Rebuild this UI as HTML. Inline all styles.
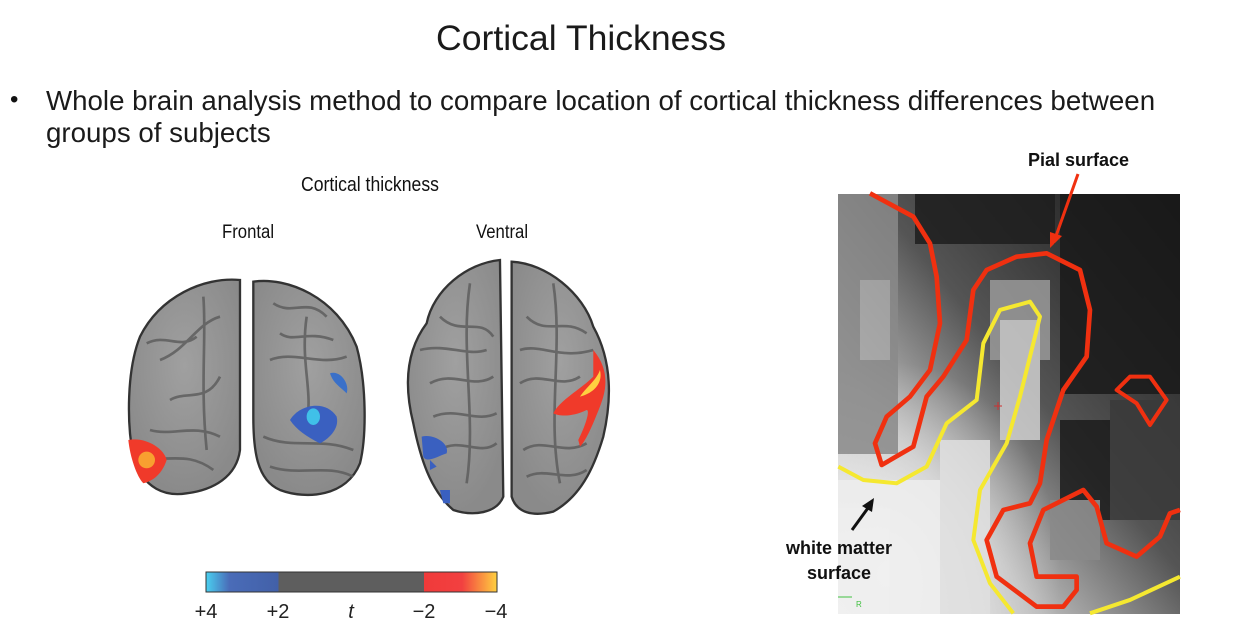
<!DOCTYPE html>
<html><head><meta charset="utf-8"><style>
body{margin:0;width:1238px;height:638px;background:#fff;position:relative;overflow:hidden;font-family:"Liberation Sans",sans-serif}
.t{position:absolute;white-space:nowrap;color:#111}
</style></head><body>
<div class="t" style="left:436px;top:18px;font-size:35.6px;color:#1a1a1a">Cortical Thickness</div>
<div class="t" style="left:10px;top:86px;font-size:24px">•</div>
<div class="t" style="left:46px;top:85px;font-size:27.7px;line-height:32px;color:#1a1a1a">Whole brain analysis method to compare location of cortical thickness differences between<br>groups of subjects</div>
<div class="t" style="left:301px;top:174px;font-size:20px;transform:scaleX(0.88);transform-origin:left">Cortical thickness</div>
<div class="t" style="left:222px;top:222px;font-size:19px;transform:scaleX(0.88);transform-origin:left">Frontal</div>
<div class="t" style="left:476px;top:222px;font-size:19px;transform:scaleX(0.88);transform-origin:left">Ventral</div>

<svg width="1238" height="638" style="position:absolute;left:0;top:0">
<defs>
<linearGradient id="cb" x1="0" x2="1">
<stop offset="0" stop-color="#4ad0f0"/><stop offset="0.08" stop-color="#4a6cb8"/><stop offset="0.25" stop-color="#4260a8"/>
<stop offset="0.25" stop-color="#5e5e5e"/><stop offset="0.75" stop-color="#5e5e5e"/>
<stop offset="0.75" stop-color="#f03a3a"/><stop offset="0.88" stop-color="#f24040"/><stop offset="1" stop-color="#ffd040"/></linearGradient>
<radialGradient id="br" cx="0.5" cy="0.4" r="0.6"><stop offset="0" stop-color="#a0a0a0"/><stop offset="1" stop-color="#8a8a8a"/></radialGradient>
<linearGradient id="mri" x1="0" y1="1" x2="1" y2="0">
<stop offset="0" stop-color="#f2f2f2"/><stop offset="0.3" stop-color="#b8b8b8"/><stop offset="0.55" stop-color="#555"/><stop offset="1" stop-color="#151515"/></linearGradient>
<radialGradient id="wm" cx="0.15" cy="0.9" r="0.5"><stop offset="0" stop-color="#f4f4f4"/><stop offset="1" stop-color="#f4f4f4" stop-opacity="0"/></radialGradient>
</defs>
<g transform="translate(120,250) scale(0.3333)">
<path d="M360,90 C250,80 120,140 60,260 C20,360 20,520 40,620 C70,720 140,740 200,730 C280,720 350,680 360,600 Z" fill="url(#br)" stroke="#333" stroke-width="7"/>
<path d="M400,95 C500,80 650,140 710,290 C740,400 740,560 720,640 C680,740 560,750 480,720 C410,690 400,600 400,500 Z" fill="url(#br)" stroke="#333" stroke-width="7"/>
<path d="M1140,30 C1040,40 940,120 920,220 C860,300 850,400 880,520 C900,620 930,720 1000,780 C1060,800 1130,790 1150,740 Z" fill="url(#br)" stroke="#333" stroke-width="7"/>
<path d="M1175,35 C1280,40 1390,130 1420,230 C1470,320 1480,430 1450,560 C1420,660 1380,740 1300,785 C1240,800 1190,790 1175,740 Z" fill="url(#br)" stroke="#333" stroke-width="7"/>
<g stroke="#5a5a5a" stroke-width="8" fill="none" opacity="0.8">
<path d="M120,330 C200,300 230,220 300,200 M150,450 C200,420 260,460 300,380 M90,540 C160,560 220,520 300,560 M250,140 C260,260 240,400 260,600 M80,280 C140,250 180,300 230,260 M60,620 C140,640 200,600 280,660"/>
<path d="M460,160 C520,200 560,140 620,200 M450,330 C520,300 600,350 680,320 M430,560 C520,600 600,560 700,600 M560,200 C540,340 580,420 560,520 M480,250 C520,280 560,240 640,270 M450,650 C540,680 620,640 700,680"/>
<path d="M960,200 C1020,260 1080,200 1120,260 M930,400 C1000,360 1060,420 1120,380 M960,600 C1020,560 1080,620 1130,580 M1050,100 C1020,300 1070,500 1040,700 M900,300 C980,280 1040,320 1100,300 M940,500 C1010,470 1070,520 1130,490"/>
<path d="M1220,200 C1280,260 1330,200 1400,250 M1200,400 C1260,360 1320,420 1380,380 M1210,600 C1270,560 1330,620 1400,580 M1300,100 C1330,300 1280,500 1320,700 M1200,300 C1260,280 1320,330 1420,300 M1220,680 C1280,650 1340,700 1400,660"/>
</g>
<path d="M25,570 C70,560 130,590 140,630 C130,660 110,690 70,700 C50,680 30,620 25,570 Z" fill="#f03a2a"/>
<ellipse cx="80" cy="630" rx="25" ry="25" fill="#f8a030"/>
<path d="M510,510 C540,460 620,450 650,500 C660,540 620,570 600,580 C560,560 530,540 510,510 Z" fill="#3a60c0"/>
<ellipse cx="580" cy="500" rx="20" ry="25" fill="#40c0e8"/>
<path d="M630,370 C660,360 690,400 680,430 C660,410 640,400 630,370 Z" fill="#3a70c8"/>
<path d="M905,560 C940,550 990,580 980,610 C950,620 920,640 910,620 Z M930,630 L950,650 L930,660 Z M960,720 L990,720 L990,760 L970,760 Z" fill="#3a60c0"/>
<path d="M1420,300 C1470,360 1460,420 1440,470 C1420,520 1400,570 1380,590 L1375,570 C1400,520 1410,480 1400,480 C1360,500 1320,500 1300,490 C1320,450 1380,420 1420,380 Z" fill="#f03a2a"/>
<path d="M1440,360 C1450,400 1420,430 1380,440 C1400,410 1430,390 1440,360 Z" fill="#ffd040"/>
</g>
<rect x="206" y="572" width="291" height="20" fill="url(#cb)" stroke="#333" stroke-width="1"/>
<g font-size="20" fill="#222" font-family="Liberation Sans, sans-serif" text-anchor="middle">
<text x="206" y="618">+4</text><text x="278" y="618">+2</text><text x="351" y="618" font-style="italic">t</text><text x="424" y="618">−2</text><text x="496" y="618">−4</text>
</g>
<g>
<rect x="838" y="194" width="342" height="420" fill="url(#mri)"/>
<rect x="838" y="194" width="342" height="420" fill="url(#wm)"/>
<g opacity="0.85">
<rect x="838" y="194" width="60" height="260" fill="#8a8a8a"/>
<rect x="860" y="280" width="30" height="80" fill="#a8a8a8"/>
<rect x="915" y="194" width="140" height="50" fill="#1e1e1e"/>
<rect x="1060" y="194" width="120" height="200" fill="#1a1a1a"/>
<rect x="990" y="280" width="60" height="80" fill="#9a9a9a"/>
<rect x="1000" y="320" width="40" height="120" fill="#cfcfcf"/>
<rect x="1060" y="420" width="50" height="100" fill="#1c1c1c"/>
<rect x="1050" y="500" width="50" height="60" fill="#8a8a8a"/>
<rect x="1110" y="400" width="70" height="120" fill="#3a3a3a"/>
<rect x="838" y="480" width="120" height="134" fill="#eeeeee"/>
<rect x="940" y="440" width="50" height="174" fill="#e0e0e0"/>
</g>
<g transform="translate(830,190) scale(0.3333)" fill="none" stroke-linejoin="round">
<path stroke="#f03010" stroke-width="14" d="M120,10 L250,80 L300,160 L320,260 L330,400 L300,540 L240,620 L170,680 L135,760 L155,825 L250,770 L290,620 L340,560 L410,450 L430,300 L470,240 L560,200 L650,190 L750,240 L780,360 L770,500 L700,600 L650,750 L630,880 L600,940 L520,960 L470,1050 L500,1160 L620,1250 L700,1250 L740,1200 L740,1160 L620,1160 L600,1060 L640,960 L760,900 L800,950 L830,1060 L920,1100 L990,1040 L1020,970 L1050,960"/>
<path stroke="#f03010" stroke-width="12" d="M860,600 L900,560 L960,560 L1010,630 L960,705 L920,640 Z"/>
<path stroke="#f5e830" stroke-width="12" d="M25,830 L100,870 L200,880 L290,830 L350,700 L440,630 L460,460 L510,360 L600,335 L630,380 L600,500 L570,620 L530,760 L450,900 L430,1050 L480,1180 L550,1270 M780,1270 L900,1230 L1050,1160"/>
</g>
<path d="M998,402 v8 M994,406 h8" stroke="#d03030" stroke-width="1"/>
<path d="M838,597 h14" stroke="#40c040" stroke-width="1"/>
<text x="856" y="607" font-size="8" fill="#40c040">R</text>
</g>
<line x1="1078" y1="174" x2="1056" y2="236" stroke="#f03010" stroke-width="3"/>
<path d="M1050,248 L1050,232 L1062,236 Z" fill="#f03010"/>
<line x1="852" y1="530" x2="868" y2="508" stroke="#111" stroke-width="3"/>
<path d="M874,498 L862,506 L872,512 Z" fill="#111"/>
</svg>
<div class="t" style="left:1028px;top:150px;font-size:18px;font-weight:bold">Pial surface</div>
<div class="t" style="left:776px;top:536px;font-size:18px;font-weight:bold;text-align:center;line-height:25px;width:126px">white matter<br>surface</div>
</body></html>
